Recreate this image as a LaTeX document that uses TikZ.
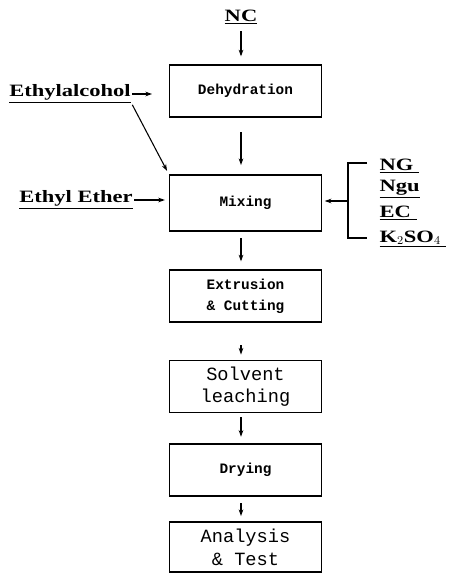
\documentclass[tikz,border=0pt]{standalone}
\usepackage{fontspec}
\setmainfont{Liberation Serif}
\setmonofont{Liberation Mono}
\newfontfamily\feedfont[FakeStretch=1.3]{Liberation Serif}
\usetikzlibrary{arrows.meta}
\newcommand{\ul}[1]{\underline{#1}}
\tikzset{
  stage/.style={draw, line width=0.9pt, minimum width=114pt, minimum height=39pt,
    align=center, font=\ttfamily\bfseries\fontsize{10.8}{15.5}\selectfont},
  bigstage/.style={stage, font=\ttfamily\fontsize{14}{17}\selectfont},
  feed/.style={font=\feedfont\bfseries\fontsize{13}{16}\selectfont, inner sep=1pt},
  flow/.style={-{Stealth[length=5pt,width=3.5pt]}, line width=0.8pt}
}
\begin{document}
\begin{tikzpicture}[x=0.75pt, y=-0.75pt]
		\useasboundingbox (0,0) rectangle (452,574);
		% process chain
		\node[feed] (nc) at (241,17) {\ul{NC}};
		\node[stage] (dehyd) at (245.5,91) {Dehydration};
		\node[stage, minimum height=42pt] (mix) at (245.5,203) {Mixing};
		\node[stage] (extr) at (245.5,296) {Extrusion\\ \& Cutting};
		\node[bigstage] (solv) at (245.5,386.5) {Solvent\\leaching};
		\node[stage] (dry) at (245.5,470) {Drying};
		\node[bigstage, minimum height=37.5pt] (anal) at (245.5,547) {Analysis\\\& Test};
		% feeds on the left
		\node[feed] (alc) at (70,94) {\ul{Ethylalcohol}};
		\node[feed] (ether) at (76,200) {\ul{Ethyl Ether}};
		\coordinate (alcend) at (152,94);
		% feeds on the right
		\node[feed, anchor=west] (ng) at (378,166) {\ul{NG~}};
		\node[feed, anchor=west] (ngu) at (378,189) {\ul{Ngu}};
		\node[feed, anchor=west] (ec) at (378,213) {\ul{EC~}};
		\node[feed, anchor=west] (kso) at (378,239) {\ul{K$_2$SO$_4$~}};
		\coordinate (brtop) at (367,163);
		\coordinate (brbot) at (367,238);
		\coordinate (brmid) at (348,201);
		% connectors
		\draw[flow, shorten <=4pt, shorten >=6pt] (nc) -- (nc |- dehyd.north);
		\draw[flow, shorten <=11pt, shorten >=7pt] (dehyd.south -| nc) -- (mix.north -| nc);
		\draw[flow, shorten <=5pt, shorten >=6pt] (mix.south -| nc) -- (extr.north -| nc);
		\draw[flow, shorten <=17pt, shorten >=4pt] (extr.south -| nc) -- (solv.north -| nc);
		\draw[flow, shorten <=3pt, shorten >=5pt] (solv.south -| nc) -- (dry.north -| nc);
		\draw[flow, shorten <=5pt, shorten >=4pt] (dry.south -| nc) -- (anal.north -| nc);
		\draw[flow] (alc.east) -- (alcend);
		\draw[flow, shorten >=3pt] (alc.south east) -- (mix.north west);
		\draw[flow, shorten >=3pt] (ether.east) -- (ether.east -| mix.west);
		\draw[line width=0.9pt] (brtop) -- (brtop -| brmid) -- (brbot -| brmid) -- (brbot);
		\draw[flow, shorten >=2pt] (brmid) -- (brmid -| mix.east);
\end{tikzpicture}
\end{document}
